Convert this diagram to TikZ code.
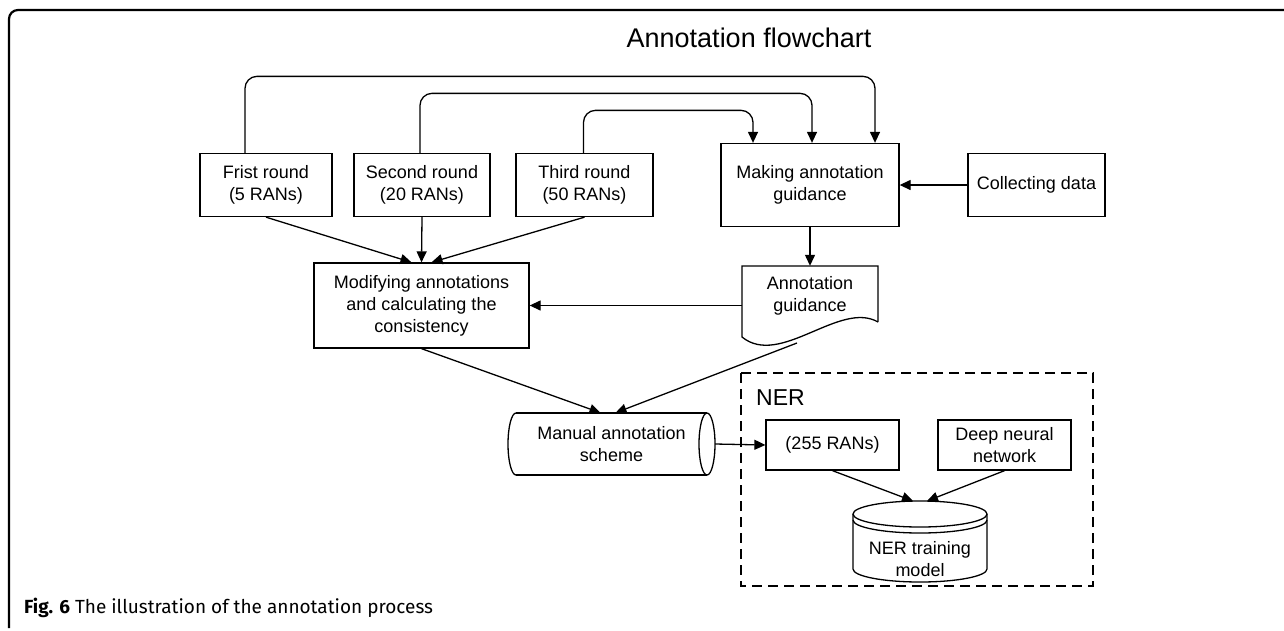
\documentclass[tikz,border=0pt]{standalone}
\usepackage{fontspec}
\setmainfont{Liberation Sans}
\newfontfamily\capfont{Fira Sans}
\usetikzlibrary{arrows.meta}

\tikzset{
	box/.style={draw, line width=1.3pt, align=center, inner sep=0pt, font=\fontsize{18}{22}\selectfont},
	txt/.style={align=center, inner sep=0pt, font=\fontsize{18}{22}\selectfont},
	arr/.style={line width=1.3pt, -{Triangle[length=11pt,width=10pt]}},
	outline/.style={line width=1.3pt},
}

\begin{document}
\begin{tikzpicture}[x=1pt,y=-1pt]
		\useasboundingbox (0,0) rectangle (1284,630);
		\draw[line width=2.2pt, rounded corners=9pt] (9,628) -- (9,10) -- (1290,10);
		\node[font=\fontsize{27}{32}\selectfont, inner sep=0pt] (title) at (749,38) {Annotation flowchart};
		
		% rounds and guidance
		\node[box, minimum width=132pt, minimum height=63pt] (frist) at (266,185) {Frist round\\(5 RANs)};
		\node[box, minimum width=136pt, minimum height=63pt] (second) at (422,185) {Second round\\(20 RANs)};
		\node[box, minimum width=137pt, minimum height=63pt] (third) at (584.5,185) {Third round\\(50 RANs)};
		\node[box, minimum width=178pt, minimum height=83pt] (making) at (810,185) {Making annotation\\guidance};
		\node[box, minimum width=137pt, minimum height=63pt] (collect) at (1036.5,185) {Collecting data};
		\node[box, minimum width=215pt, minimum height=85pt] (modify) at (421.5,305.5) {Modifying annotations\\and calculating the\\consistency};
		
		% document shape
		\draw[outline] (878,322) -- (878,266) -- (742,266) -- (742,337) .. controls (780,368) and (840,300) .. (878,322);
		\node[txt, minimum width=136pt, minimum height=60pt] (guide) at (810,296) {Annotation\\guidance};
		\coordinate (guidebot) at (797,343);
		
		% manual scheme
		\draw[outline] (516,413) -- (707,413) (516,475) -- (707,475);
		\draw[outline] (516,413) arc[start angle=270, end angle=90, x radius=8, y radius=31];
		\draw[outline] (707,444) ellipse[x radius=8, y radius=31];
		\node[txt, minimum width=207pt, minimum height=62pt] (manual) at (611.5,444) {Manual annotation\\scheme};
		
		% NER part
		\draw[dashed, line width=1.6pt, dash pattern=on 10pt off 6pt] (741,373) rectangle (1093,586);
		\node[anchor=west, inner sep=0pt, font=\fontsize{23}{26}\selectfont] (nerlabel) at (756,397.5) {NER};
		\node[box, minimum width=133pt, minimum height=50pt] (ner255) at (832.5,445) {(255 RANs)};
		\node[box, minimum width=133pt, minimum height=50pt] (deep) at (1004.5,445) {Deep neural\\network};
		\draw[outline] (853,514) -- (853,569) arc[start angle=180, end angle=0, x radius=67, y radius=13] -- (987,514);
		\draw[outline] (920,514) ellipse[x radius=67, y radius=13];
		\draw[outline] (853,520) arc[start angle=180, end angle=0, x radius=67, y radius=13];
		\node[txt] (nermodel) at (920,559) {NER training\\model};
		\coordinate (nertop) at (920,501);
		
		% connectors
		\draw[arr, rounded corners=12pt] ([xshift=-21pt]frist.north) -- ++(0,-76.5) -| ([xshift=65pt]making.north);
		\draw[arr, rounded corners=12pt] ([xshift=-2pt]second.north) -- ++(0,-59.5) -| ([xshift=2pt]making.north);
		\draw[arr, rounded corners=12pt] ([xshift=-1pt]third.north) -- ++(0,-42.5) -| ([xshift=-57pt]making.north);
		\draw[arr] (collect) -- (making);
		\draw[arr] (frist.south) -- ([xshift=-10pt]modify.north);
		\draw[arr] (second.south) -- (modify.north);
		\draw[arr] (third.south) -- ([xshift=10pt]modify.north);
		\draw[arr] (making.south) -- (guide.north);
		\draw[arr] (guide.west |- modify.east) -- (modify.east);
		\draw[arr] (modify.south) -- ([xshift=-11pt]manual.north);
		\draw[arr] (guidebot) -- ([xshift=4pt]manual.north);
		\draw[arr] (manual.east) -- (ner255.west);
		\draw[arr] (ner255.south) -- ([xshift=-7pt]nertop);
		\draw[arr] (deep.south) -- ([xshift=7pt]nertop);
		
		\node[anchor=base west, inner sep=0pt, font=\capfont\fontsize{19}{22}\selectfont] (caption) at (24,613) {\textbf{Fig. 6} The illustration of the annotation process};
	\end{tikzpicture}
\end{document}
